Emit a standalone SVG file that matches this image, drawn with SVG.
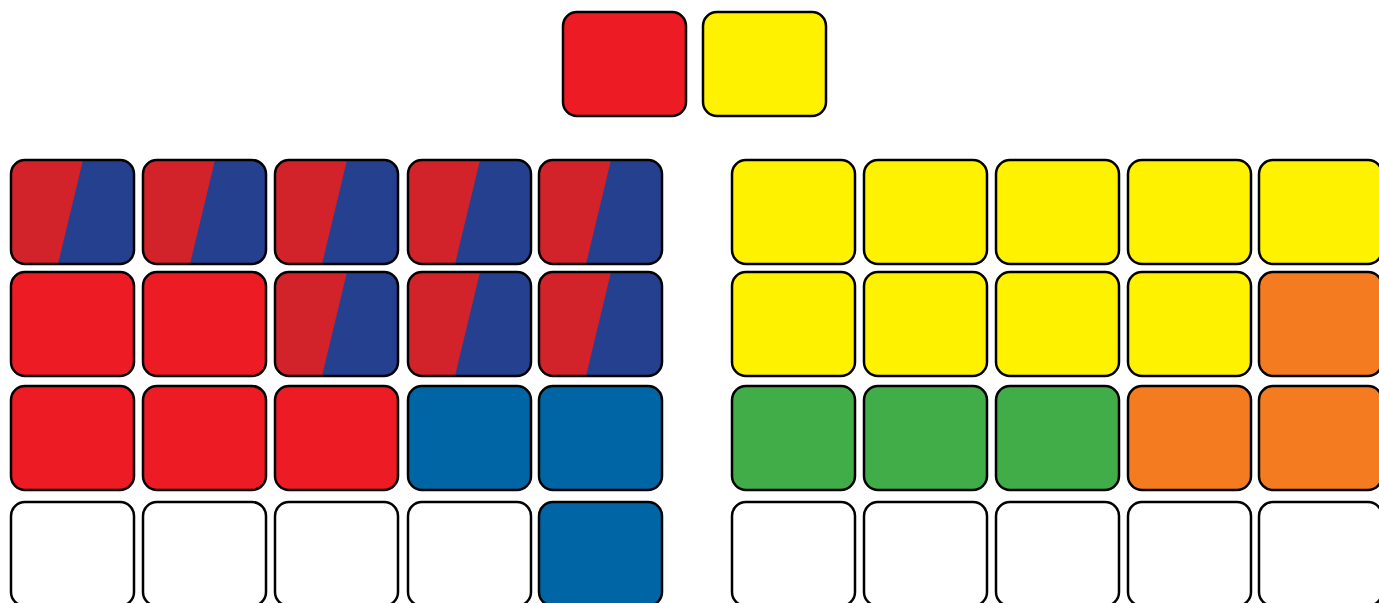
<svg xmlns="http://www.w3.org/2000/svg" xmlns:xlink="http://www.w3.org/1999/xlink" width="1379" height="603" viewBox="0 0 1379 603">
<style>
.t{stroke:#000;stroke-width:2.5}
.r{fill:#ED1C24}.y{fill:#FFF200}.o{fill:#F47B20}.g{fill:#41AD49}.b{fill:#0065A4}.w{fill:#fff}
</style>
<defs>
<clipPath id="cp"><rect x="0" y="0" width="123" height="104" rx="14"/></clipPath>
<g id="split">
<g clip-path="url(#cp)">
<rect x="0" y="0" width="123" height="104" fill="#25408F"/>
<polygon points="0,0 72,0 47,104 0,104" fill="#D2232A"/>
</g>
<rect x="0" y="0" width="123" height="104" rx="14" fill="none" stroke="#000" stroke-width="2.5"/>
</g>
</defs>
<g id="top-red"><rect class="t r" x="563" y="12" width="123" height="104" rx="14"/></g>
<g id="top-yellow"><rect class="t y" x="703" y="12" width="123" height="104" rx="14"/></g>
<g id="left-grid">
<g id="L11"><use xlink:href="#split" x="11" y="160"/></g>
<g id="L12"><use xlink:href="#split" x="143" y="160"/></g>
<g id="L13"><use xlink:href="#split" x="275" y="160"/></g>
<g id="L14"><use xlink:href="#split" x="408" y="160"/></g>
<g id="L15"><use xlink:href="#split" x="539" y="160"/></g>
<g id="L21"><rect class="t r" x="11" y="272" width="123" height="104" rx="14"/></g>
<g id="L22"><rect class="t r" x="143" y="272" width="123" height="104" rx="14"/></g>
<g id="L23"><use xlink:href="#split" x="275" y="272"/></g>
<g id="L24"><use xlink:href="#split" x="408" y="272"/></g>
<g id="L25"><use xlink:href="#split" x="539" y="272"/></g>
<g id="L31"><rect class="t r" x="11" y="386" width="123" height="104" rx="14"/></g>
<g id="L32"><rect class="t r" x="143" y="386" width="123" height="104" rx="14"/></g>
<g id="L33"><rect class="t r" x="275" y="386" width="123" height="104" rx="14"/></g>
<g id="L34"><rect class="t b" x="408" y="386" width="123" height="104" rx="14"/></g>
<g id="L35"><rect class="t b" x="539" y="386" width="123" height="104" rx="14"/></g>
<g id="L41"><rect class="t w" x="11" y="502" width="123" height="104" rx="14"/></g>
<g id="L42"><rect class="t w" x="143" y="502" width="123" height="104" rx="14"/></g>
<g id="L43"><rect class="t w" x="275" y="502" width="123" height="104" rx="14"/></g>
<g id="L44"><rect class="t w" x="408" y="502" width="123" height="104" rx="14"/></g>
<g id="L45"><rect class="t b" x="539" y="502" width="123" height="104" rx="14"/></g>
</g>
<g id="right-grid">
<g id="R11"><rect class="t y" x="732" y="160" width="123" height="104" rx="14"/></g>
<g id="R12"><rect class="t y" x="864" y="160" width="123" height="104" rx="14"/></g>
<g id="R13"><rect class="t y" x="996" y="160" width="123" height="104" rx="14"/></g>
<g id="R14"><rect class="t y" x="1128" y="160" width="123" height="104" rx="14"/></g>
<g id="R15"><rect class="t y" x="1259" y="160" width="123" height="104" rx="14"/></g>
<g id="R21"><rect class="t y" x="732" y="272" width="123" height="104" rx="14"/></g>
<g id="R22"><rect class="t y" x="864" y="272" width="123" height="104" rx="14"/></g>
<g id="R23"><rect class="t y" x="996" y="272" width="123" height="104" rx="14"/></g>
<g id="R24"><rect class="t y" x="1128" y="272" width="123" height="104" rx="14"/></g>
<g id="R25"><rect class="t o" x="1259" y="272" width="123" height="104" rx="14"/></g>
<g id="R31"><rect class="t g" x="732" y="386" width="123" height="104" rx="14"/></g>
<g id="R32"><rect class="t g" x="864" y="386" width="123" height="104" rx="14"/></g>
<g id="R33"><rect class="t g" x="996" y="386" width="123" height="104" rx="14"/></g>
<g id="R34"><rect class="t o" x="1128" y="386" width="123" height="104" rx="14"/></g>
<g id="R35"><rect class="t o" x="1259" y="386" width="123" height="104" rx="14"/></g>
<g id="R41"><rect class="t w" x="732" y="502" width="123" height="104" rx="14"/></g>
<g id="R42"><rect class="t w" x="864" y="502" width="123" height="104" rx="14"/></g>
<g id="R43"><rect class="t w" x="996" y="502" width="123" height="104" rx="14"/></g>
<g id="R44"><rect class="t w" x="1128" y="502" width="123" height="104" rx="14"/></g>
<g id="R45"><rect class="t w" x="1259" y="502" width="123" height="104" rx="14"/></g>
</g>
<g id="connectors"/>
</svg>
